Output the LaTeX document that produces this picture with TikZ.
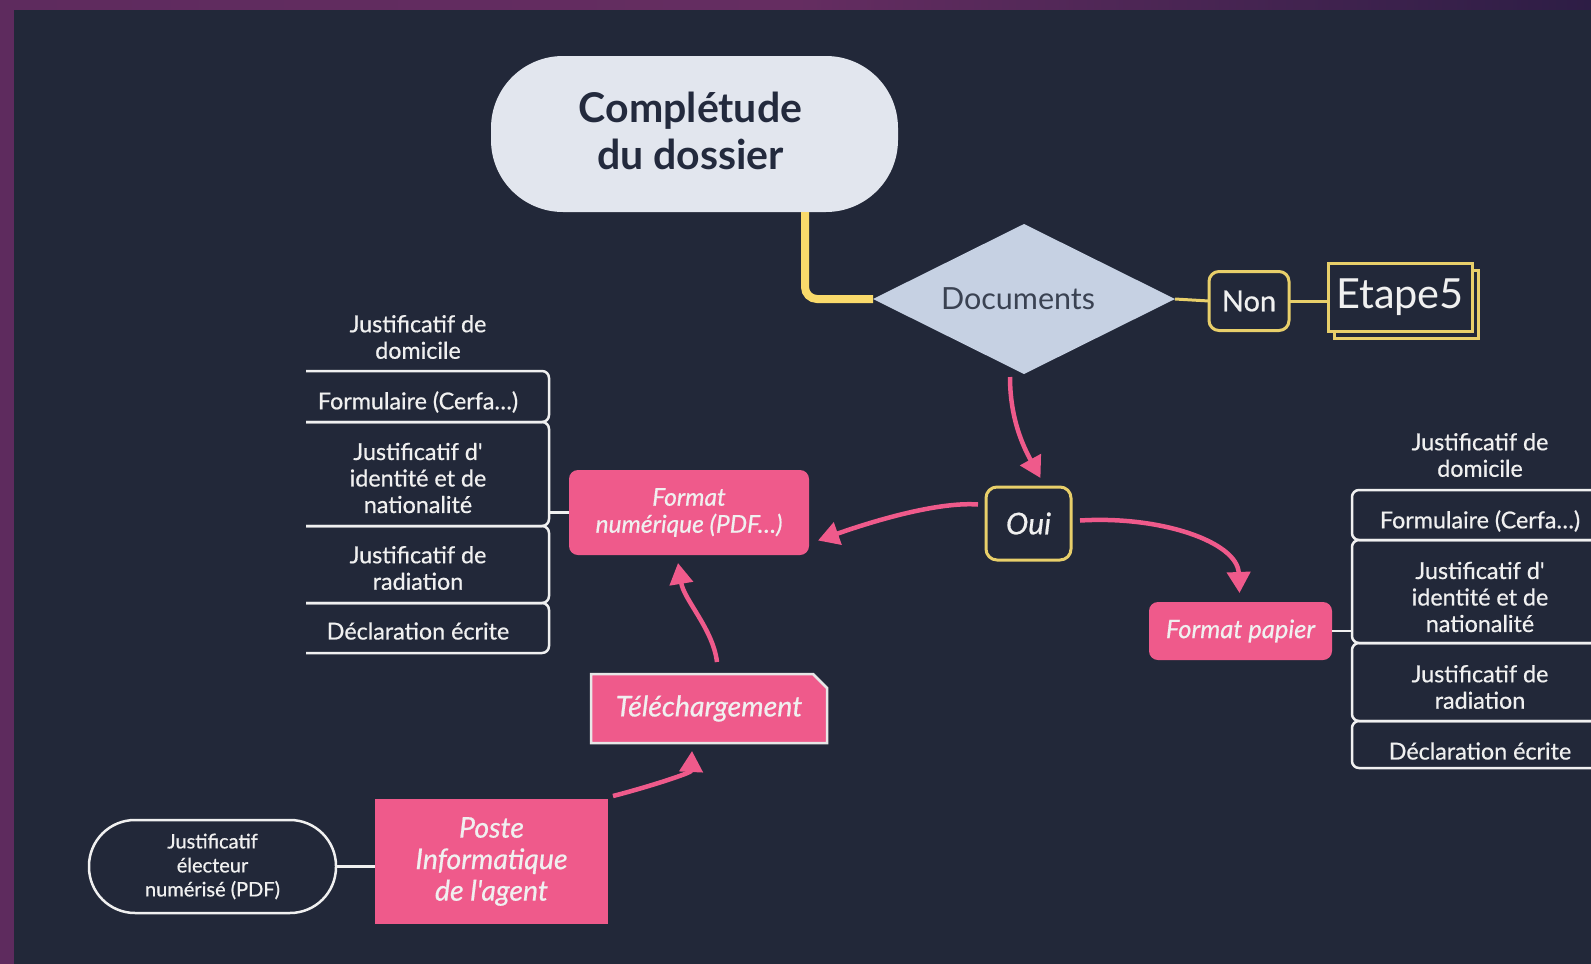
\documentclass[tikz,border=0pt]{standalone}
\usepackage{fontspec}
\setmainfont{Lato}
\newfontfamily\medfont{Lato}[FakeBold=0.6]
\usetikzlibrary{shapes.geometric,arrows.meta,calc}
\definecolor{bgc}{HTML}{222839}
\definecolor{purpA}{HTML}{5E2B5E}
\definecolor{purpM}{HTML}{652D61}
\definecolor{purpB}{HTML}{2D1D45}
\definecolor{titlec}{HTML}{E2E6EE}
\definecolor{navy}{HTML}{232A3D}
\definecolor{ythick}{HTML}{F9DA6B}
\definecolor{yline}{HTML}{E8CF6A}
\definecolor{diac}{HTML}{C6D1E3}
\definecolor{doctext}{HTML}{3A4252}
\definecolor{pinkc}{HTML}{EF5A8B}
\definecolor{wc}{HTML}{F0F0F0}
\begin{document}
\begin{tikzpicture}[x=1pt,y=-1pt,
  every node/.style={inner sep=0pt, outer sep=0pt},
  listtxt/.style={text=wc, align=center, font=\medfont\fontsize{23.3}{26.5}\selectfont},
  wline/.style={draw=wc, line width=2.5pt, rounded corners=7pt},
  ythin/.style={draw=yline, line width=3pt},
  ybox/.style={draw=yline, line width=3pt, fill=bgc, rounded corners=10pt, text=wc},
  pbox/.style={fill=pinkc, text=wc, align=center},
  parrow/.style={draw=pinkc, line width=4.5pt, -{Triangle[length=21pt,width=23pt]}},
]
\useasboundingbox (0,0) rectangle (1591,964);
% background
\fill[bgc] (0,0) rectangle (1591,964);
\shade[left color=purpA, right color=purpB, middle color=purpM] (0,0) rectangle (1591,9);
\fill[purpA] (0,0) rectangle (14,964);

% title
\node[fill=titlec, rounded corners=72pt, minimum width=407pt, minimum height=156pt]
      (title) at (694.5,134) {};
\node[text=navy, align=center, font=\fontsize{41}{47}\selectfont\bfseries]
      (titletxt) at ($(title.center)+(-4,-3)$) {Complétude\\du dossier};

% decision diamond
\node[diamond, fill=diac, minimum width=302pt, minimum height=150pt, text=doctext,
      font=\fontsize{30.5}{32}\selectfont]
      (docs) at (1024,299) {\makebox[0pt]{Documents\hspace{12pt}}};
\coordinate (ybend) at (805,299);
\draw[draw=ythick, line width=8pt, rounded corners=12pt] (title.south -| ybend) |- (docs.west);

% Non / Etape5
\node[ybox, minimum width=80pt, minimum height=59pt, font=\medfont\fontsize{29}{30}\selectfont]
      (non) at (1249,301) {Non};
\node[draw=yline, line width=3pt, fill=bgc, minimum width=144pt, minimum height=68pt]
      (etback) at (1406,304) {};
\node[draw=yline, line width=3pt, fill=bgc, minimum width=144pt, minimum height=68pt,
      text=wc, font=\fontsize{41.5}{44}\selectfont]
      (etape) at (1400,297) {Etape5};
\draw[ythin] (docs.east) -- (non.west);
\draw[ythin] (non.east) -- (non.east -| etape.west);

% Oui
\node[ybox, rounded corners=11pt, minimum width=85pt, minimum height=73pt,
      font=\medfont\fontsize{30}{30}\selectfont\itshape]
      (oui) at (1028.5,523.5) {Oui};

% Format numerique
\node[pbox, rounded corners=9pt, minimum width=240pt, minimum height=85pt,
      font=\medfont\fontsize{24.5}{27}\selectfont\itshape]
      (fnum) at (689,512.5) {Format\\numérique (PDF…)};

% Format papier
\node[pbox, rounded corners=9pt, minimum width=183pt, minimum height=58pt,
      font=\medfont\fontsize{25.5}{27}\selectfont\itshape]
      (fpap) at (1240.5,631) {Format papier};

% left list
\node[listtxt] (l1) at (418,337) {Justificatif de\\domicile};
\node[listtxt] (l2) at (418,402) {Formulaire (Cerfa…)};
\node[listtxt] (l3) at (418,478) {Justificatif d'\\identité et de\\nationalité};
\node[listtxt] (l4) at (418,568) {Justificatif de\\radiation};
\node[listtxt] (l5) at (418,631) {Déclaration écrite};
\draw[wline] (306,371) -- (549,371) -- (549,422) -- (306,422);
\draw[wline] (306,422) -- (549,422) -- (549,526) -- (306,526);
\draw[wline] (306,526) -- (549,526) -- (549,603) -- (306,603);
\draw[wline] (306,603) -- (549,603) -- (549,653) -- (306,653);
\coordinate (lbr) at (549,512.5);
\draw[draw=wc, line width=2.5pt] (lbr) -- (fnum.west);

% right list
\node[listtxt] (r1) at (1480,455) {Justificatif de\\domicile};
\node[listtxt] (r2) at (1480,521) {Formulaire (Cerfa…)};
\node[listtxt] (r3) at (1480,597) {Justificatif d'\\identité et de\\nationalité};
\node[listtxt] (r4) at (1480,687) {Justificatif de\\radiation};
\node[listtxt] (r5) at (1480,751) {Déclaration écrite};
\draw[wline] (1591,490) -- (1352,490) -- (1352,540) -- (1591,540);
\draw[wline] (1591,540) -- (1352,540) -- (1352,643) -- (1591,643);
\draw[wline] (1591,643) -- (1352,643) -- (1352,721) -- (1591,721);
\draw[wline] (1591,721) -- (1352,721) -- (1352,768) -- (1591,768);
\coordinate (rbr) at (1352,631);
\draw[draw=wc, line width=2.5pt] (fpap.east) -- (rbr);

% Telechargement (folded corner)
\coordinate (telec) at (709,708.5);
\filldraw[fill=pinkc, draw=wc!92!gray, line width=2.5pt]
  ($(telec)+(-118,-34.5)$) -- ($(telec)+(104,-34.5)$) -- ($(telec)+(118,-20.5)$)
  -- ($(telec)+(118,34.5)$) -- ($(telec)+(-118,34.5)$) -- cycle;
\node[text=wc, minimum width=236pt, minimum height=69pt,
      font=\medfont\fontsize{28.5}{30}\selectfont\itshape]
      (tele) at (telec) {Téléchargement};

% Poste informatique
\node[pbox, minimum width=233pt, minimum height=125pt,
      font=\medfont\fontsize{28.5}{31.5}\selectfont\itshape]
      (poste) at (491.5,861.5) {Poste\\Informatique\\de l'agent};

% Justificatif electeur
\node[draw=wc, line width=2.5pt, fill=bgc, rounded corners=46pt, minimum width=247pt,
      minimum height=93pt, text=wc, align=center, font=\medfont\fontsize{20}{24}\selectfont]
      (jel) at (212.5,866.5) {Justificatif\\électeur\\numérisé (PDF)};
\draw[draw=wc, line width=2.5pt] (jel.east) -- (jel.east -| poste.west);

% pink arrows
\draw[parrow] ($(docs.south)+(-14,3)$) .. controls ($(docs.south)+(-14,45)$) and ($(oui.north)+(-5,-40)$) .. ($(oui.north)+(12,-9)$);
\draw[parrow] ($(oui.west)+(-8,-19)$) .. controls ($(oui.west)+(-50,-22)$) and ($(fnum.east)+(60,10)$) .. ($(fnum.east)+(9,28)$);
\draw[parrow] ($(oui.east)+(9,-3)$) .. controls ($(oui.east)+(90,-8)$) and ($(fpap.north)+(-3,-60)$) .. ($(fpap.north)+(-1,-9)$);
\draw[parrow] ($(tele.north)+(8,-12)$) .. controls ($(tele.north)+(4,-45)$) and ($(fnum.south)+(-5,45)$) .. ($(fnum.south)+(-11,8)$);
\draw[parrow] ($(poste.north east)+(5,-3)$) .. controls ($(poste.north east)+(40,-12)$) and ($(tele.south)+(-18,30)$) .. ($(tele.south)+(-17,8)$);
\end{tikzpicture}
\end{document}
